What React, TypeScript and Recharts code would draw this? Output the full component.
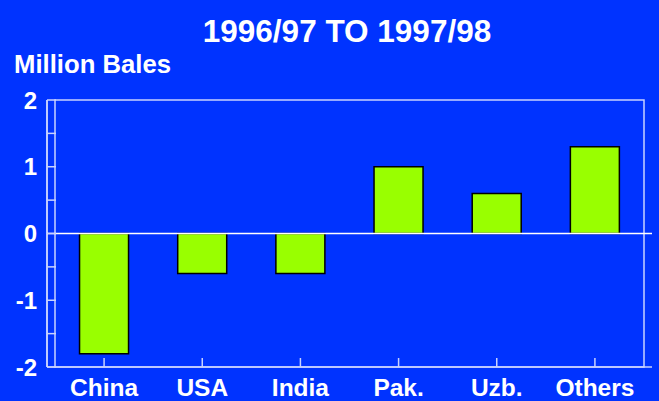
import React from "react";
import {
  BarChart,
  Bar,
  XAxis,
  YAxis,
  ReferenceLine,
  ReferenceArea,
} from "recharts";

const countries = ["China", "USA", "India", "Pak.", "Uzb.", "Others"];
const changes = [-1.8, -0.6, -0.6, 1.0, 0.6, 1.3];
const yTicks = [-2, -1.5, -1, -0.5, 0, 0.5, 1, 1.5, 2];

const title = "1996/97 TO 1997/98";
const unitLabel = "Million Bales";

const BG = "#0033ff";
const FRAME = "#c8d2ff";
const FONT = "'Liberation Sans', Arial, sans-serif";

export default function App() {
  const data = countries.map((c, i) => ({ country: c, change: changes[i] }));

  return (
    <div
      style={{
        position: "absolute",
        left: 0,
        top: 0,
        width: 659,
        height: 401,
        background: BG,
        fontFamily: FONT,
      }}
    >
      <BarChart
        width={659}
        height={401}
        data={data}
        margin={{ top: 100, right: 7, bottom: 0, left: 0 }}
        barCategoryGap="25%"
      >
        <ReferenceArea
          y1={-2}
          y2={2}
          fill="none"
          stroke={FRAME}
          strokeWidth={1.5}
          ifOverflow="visible"
        />
        <XAxis
          dataKey="country"
          height={34}
          padding={{ left: 8, right: 8 }}
          axisLine={{ stroke: FRAME, strokeWidth: 1.5 }}
          tickLine={{ stroke: FRAME, strokeWidth: 1.5 }}
          tickSize={-9}
          tickMargin={21}
          tick={{ fill: "#ffffff", fontSize: 24.5, fontWeight: "bold", fontFamily: FONT }}
          interval={0}
        />
        <YAxis
          domain={[-2, 2]}
          ticks={yTicks}
          width={47}
          axisLine={{ stroke: "#ffffff", strokeWidth: 1.5 }}
          tickLine={{ stroke: FRAME, strokeWidth: 1.5 }}
          tickSize={-9}
          tickMargin={19}
          tickFormatter={(v: number) => (Number.isInteger(v) ? String(v) : "")}
          tick={{ fill: "#ffffff", fontSize: 24, fontWeight: "bold", fontFamily: FONT }}
          interval={0}
        />
        <ReferenceLine y={0} stroke="#ffffff" strokeWidth={1.5} />
        <Bar
          dataKey="change"
          fill="#99ff00"
          stroke="#000000"
          strokeWidth={1.5}
          isAnimationActive={false}
        />
      </BarChart>
      <svg
        width={659}
        height={401}
        style={{ position: "absolute", left: 0, top: 0, pointerEvents: "none" }}
      >
        <text
          x={347}
          y={42}
          textAnchor="middle"
          fill="#ffffff"
          fontSize={31.5}
          fontWeight="bold"
          fontFamily={FONT}
        >
          {title}
        </text>
        <text
          x={14}
          y={73}
          fill="#ffffff"
          fontSize={25.7}
          fontWeight="bold"
          fontFamily={FONT}
        >
          {unitLabel}
        </text>
      </svg>
    </div>
  );
}
